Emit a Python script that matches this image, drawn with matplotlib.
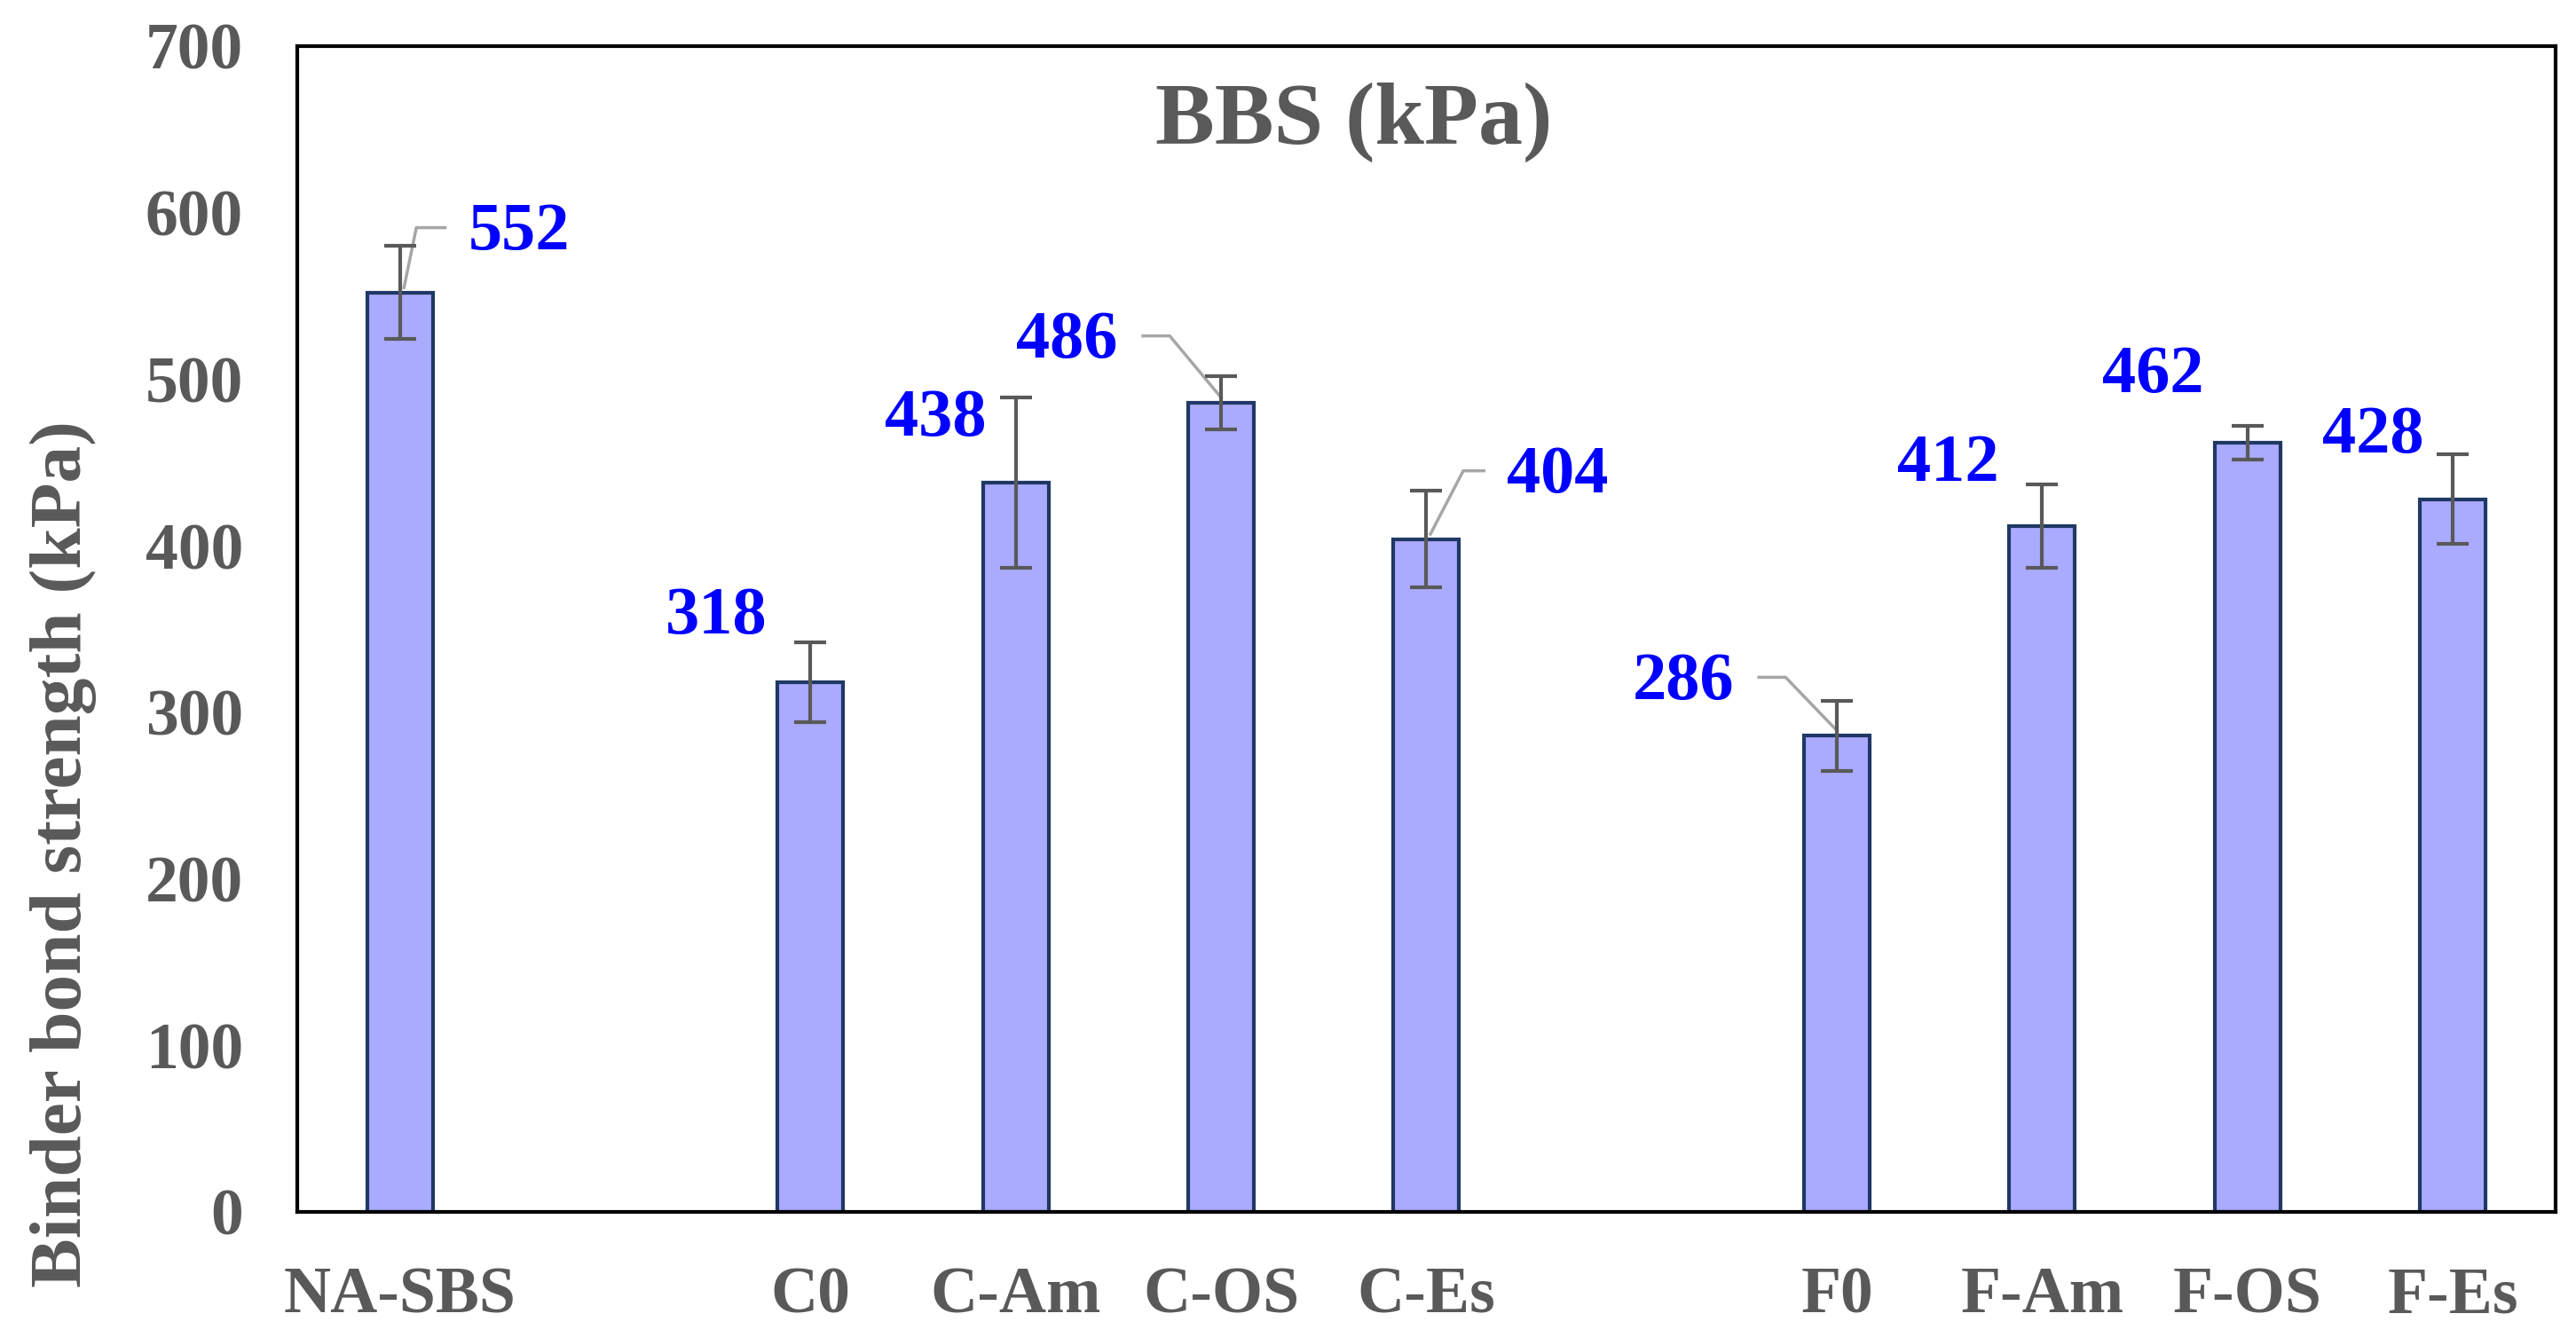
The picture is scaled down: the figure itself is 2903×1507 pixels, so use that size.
import numpy as np
import matplotlib.pyplot as plt

# Data
labels = ["NA-SBS", "", "C0", "C-Am", "C-OS", "C-Es", "", "F0", "F-Am", "F-OS", "F-Es"]
values = [552, np.nan, 318, 438, 486, 404, np.nan, 286, 412, 462, 428]
errors = [28, np.nan, 24, 51, 16, 29, np.nan, 21, 25, 10, 27]

# label positions (data units); knee = x offset of leader bend from bar centre (None = no leader)
label_pos = [(0.58, 588), None, (1.54, 357), (2.61, 476), (3.25, 523), (5.64, 442),
             None, (6.25, 318), (7.54, 449), (8.54, 502), (9.61, 466)]
knees = [0.08, None, None, None, -0.25, 0.18, None, -0.25, None, None, None]

gray = "#595959"
plt.rcParams['font.family'] = ['Liberation Serif', 'DejaVu Serif']
plt.rcParams['font.weight'] = 'bold'

fig = plt.figure(figsize=(29.03, 15.07), dpi=100)
ax = fig.add_axes([0.1154, 0.0936, 0.8766, 0.8719])

x = np.arange(len(labels))
ax.bar(x, values, width=0.32, color="#AAAAFF", edgecolor="#1F3864", linewidth=3, zorder=2)
ax.errorbar(x, values, yerr=errors, fmt="none", ecolor=gray, elinewidth=3,
            capsize=13, capthick=3, zorder=3)

for i, pos in enumerate(label_pos):
    if pos is None:
        continue
    tx, ty = pos
    ax.text(tx, ty, str(values[i]), color="#0000FF", fontsize=55, fontweight="bold",
            ha="center", va="center", zorder=4)
    k = knees[i]
    if k is not None:
        ly = ty + 3
        if k > 0:
            pts_x = [x[i] + 0.02, x[i] + k, tx - 0.36]
            pts_y = [values[i] + 3, ly, ly]
        else:
            pts_x = [tx + 0.37, x[i] + k, x[i]]
            pts_y = [ly, ly, values[i] + 3]
        ax.plot(pts_x, pts_y, color="#A6A6A6", linewidth=2.5, zorder=1)

ax.text(0.468, 0.935, "BBS (kPa)", transform=ax.transAxes, color=gray,
        fontsize=72, fontweight="bold", ha="center", va="center")

ax.set_xlim(-0.5, 10.5)
ax.set_ylim(0, 700)
ax.set_yticks(np.arange(0, 701, 100))
ax.set_xticks(x)
ax.set_xticklabels(labels)
ax.tick_params(axis="both", length=0, labelsize=53, labelcolor=gray)
ax.tick_params(axis="x", pad=44)
ax.tick_params(axis="y", pad=44)
for lab in ax.get_xticklabels() + ax.get_yticklabels():
    lab.set_fontweight("bold")
for sp in ax.spines.values():
    sp.set_linewidth(3)
    sp.set_color("black")

fig.text(0.0245, 0.361, "Binder bond strength (kPa)", rotation=90, fontsize=60,
         fontweight="bold", color=gray, ha="center", va="center")

fig.savefig("out.png", dpi=100)
